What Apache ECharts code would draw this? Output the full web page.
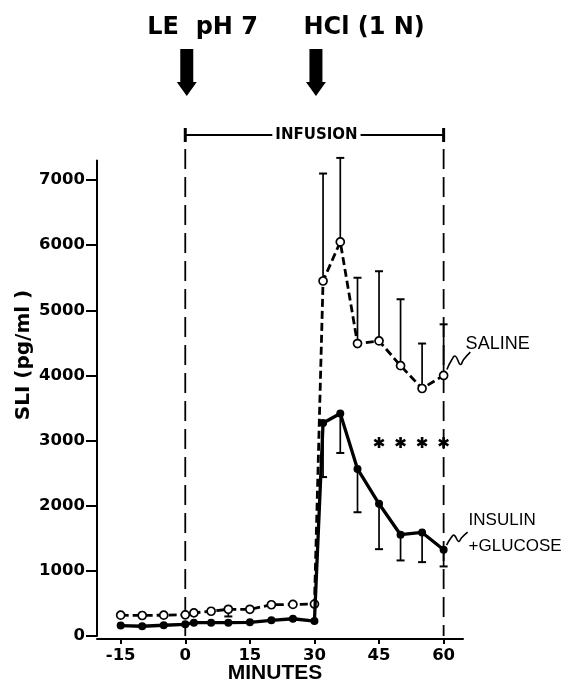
<!DOCTYPE html>
<html><head><meta charset="utf-8">
<script src="https://cdn.jsdelivr.net/npm/echarts@6/dist/echarts.min.js"></script>
<style>html,body{margin:0;padding:0;background:#fff}#c{width:571px;height:685px}</style>
</head><body><div id="c"></div>
<script>
// ---- data ----
const minutes    = [-15,-10,-5,0,2,6,10,15,20,25,30,32,36,40,45,50,55,60];
const salineSLI  = [320,315,320,325,355,380,410,410,480,485,490,5450,6050,4490,4530,4150,3800,4000];
const salineErr  = [0,0,0,0,0,0,-110,0,0,0,0,1650,1290,1010,1070,1020,690,785];
const insulinSLI = [160,150,165,180,205,205,205,210,240,265,230,3270,3415,2565,2030,1555,1590,1325];
const insulinErr = [0,0,0,0,0,0,0,0,0,0,0,-830,-605,-665,-697,-395,-456,-257];
const xTickValues = [-15,0,15,30,45,60];
const yTickValues = [0,1000,2000,3000,4000,5000,6000,7000];
const starMinutes = [45,50,55,60];
const starLevel = 2970;
const eventMinutes = [0,30];
const eventLabels = ['LE  pH 7','HCl (1 N)'];
const infusionRange = [0,60];

const chart = echarts.init(document.getElementById('c'), null, {renderer:'canvas'});
const TICKFONT = {fontFamily:'DejaVu Sans', fontWeight:'bold', fontSize:16.5, color:'#000', formatter:v=>String(v)};

function errRender(params, api){
  const e = api.value(2);
  if(!e) return;
  const x = api.value(0), y = api.value(1);
  const p0 = api.coord([x,y]), p1 = api.coord([x,y+e]);
  return {type:'group', children:[
    {type:'line', shape:{x1:p0[0],y1:p0[1],x2:p1[0],y2:p1[1]}, style:{stroke:'#000',lineWidth:1.7}},
    {type:'line', shape:{x1:p1[0]-4,y1:p1[1],x2:p1[0]+4,y2:p1[1]}, style:{stroke:'#000',lineWidth:2}}
  ]};
}
function starRender(params, api){
  const p = api.coord([api.value(0), api.value(1)]);
  const r = 5.5, ch = [];
  [90,30,150].forEach(a=>{
    const rad = a*Math.PI/180, dx = Math.cos(rad)*r, dy = Math.sin(rad)*r;
    ch.push({type:'line', shape:{x1:p[0]-dx,y1:p[1]-dy,x2:p[0]+dx,y2:p[1]+dy}, style:{stroke:'#000',lineWidth:2.6}});
  });
  return {type:'group', children:ch};
}

chart.setOption({
  animation:false,
  backgroundColor:'#fff',
  grid:{left:97, right:108, top:160.5, bottom:49, containLabel:false},
  xAxis:{type:'value', min:-20.5, max:64.5, offset:3,
    axisLine:{onZero:false, lineStyle:{color:'#000',width:2}},
    axisTick:{show:true, customValues:xTickValues, length:5, lineStyle:{color:'#000',width:2}},
    axisLabel:Object.assign({customValues:xTickValues, margin:8}, TICKFONT),
    splitLine:{show:false}},
  yAxis:{type:'value', min:0, max:7300,
    axisLine:{show:true, onZero:false, lineStyle:{color:'#000',width:2}},
    axisTick:{show:true, customValues:yTickValues, length:11, lineStyle:{color:'#000',width:2}},
    axisLabel:Object.assign({customValues:yTickValues, margin:12}, TICKFONT),
    splitLine:{show:false}},
  series:[
    {type:'custom', name:'salineErr', renderItem:errRender, clip:false, silent:true, z:2,
      encode:{x:0,y:1}, data:minutes.map((t,i)=>[t,salineSLI[i],salineErr[i]])},
    {type:'custom', name:'insulinErr', renderItem:errRender, clip:false, silent:true, z:2,
      encode:{x:0,y:1}, data:minutes.map((t,i)=>[t,insulinSLI[i],insulinErr[i]])},
    {type:'line', name:'SALINE', data:minutes.map((t,i)=>[t,salineSLI[i]]), z:5, silent:true,
      symbol:'circle', symbolSize:8, showAllSymbol:true,
      lineStyle:{color:'#000', width:2.8, type:[8,4]},
      itemStyle:{color:'#fff', borderColor:'#000', borderWidth:1.7}},
    {type:'line', name:'INSULIN + GLUCOSE', data:minutes.map((t,i)=>[t,insulinSLI[i]]), z:6, silent:true,
      symbol:'circle', symbolSize:8, showAllSymbol:true,
      lineStyle:{color:'#000', width:3.3},
      itemStyle:{color:'#000'}},
    {type:'custom', name:'stars', renderItem:starRender, silent:true, z:4,
      encode:{x:0,y:1}, data:starMinutes.map(t=>[t,starLevel])}
  ]
});

const P = (x,y)=>chart.convertToPixel({gridIndex:0},[x,y]);
const g = [];
// dashed infusion boundaries
infusionRange.forEach(t=>{
  const p = P(t,0);
  g.push({type:'line', shape:{x1:p[0],y1:149,x2:p[0],y2:p[1]}, style:{stroke:'#000',lineWidth:1.8,lineDash:[20,8]}, z:1});
});
// bracket
const xa = P(infusionRange[0],0)[0], xb = P(infusionRange[1],0)[0];
g.push({type:'line', shape:{x1:xa,y1:135,x2:xb,y2:135}, style:{stroke:'#000',lineWidth:2}});
g.push({type:'rect', shape:{x:xa-1.5,y:128,width:3,height:14}, style:{fill:'#000'}});
g.push({type:'rect', shape:{x:xb-1.5,y:128,width:3,height:14}, style:{fill:'#000'}});
g.push({type:'text', x:(xa+xb)/2+2, y:135, style:{text:'INFUSION', fontFamily:'DejaVu Sans', fontWeight:'bold', fontSize:15,
  fill:'#000', align:'center', verticalAlign:'middle', backgroundColor:'#fff', padding:[0,3]}, z:10});
// arrows + labels
eventMinutes.forEach((t,i)=>{
  const xc = P(t,0)[0] + 1.5;
  g.push({type:'rect', shape:{x:xc-6.5,y:49,width:13,height:34}, style:{fill:'#000'}});
  g.push({type:'polygon', shape:{points:[[xc-10,82],[xc+10,82],[xc,96]]}, style:{fill:'#000'}});
});
g.push({type:'text', x:P(eventMinutes[0],0)[0]-38, y:28, style:{text:eventLabels[0], fontFamily:'DejaVu Sans', fontWeight:'bold', fontSize:24, fill:'#000', align:'left', verticalAlign:'middle'}});
g.push({type:'text', x:P(eventMinutes[1],0)[0]-11, y:28, style:{text:eventLabels[1], fontFamily:'DejaVu Sans', fontWeight:'bold', fontSize:24, fill:'#000', align:'left', verticalAlign:'middle'}});
// axis titles
g.push({type:'text', x:24, y:355, rotation:Math.PI/2, style:{text:'SLI (pg/ml )', fontFamily:'DejaVu Sans', fontWeight:'bold', fontSize:20, fill:'#000', align:'center', verticalAlign:'middle'}});
g.push({type:'text', x:275, y:673, style:{text:'MINUTES', fontFamily:'Liberation Sans', fontWeight:'bold', fontSize:21, fill:'#000', align:'center', verticalAlign:'middle'}});
// series labels with squiggles
const last = minutes.length-1;
const ps = P(minutes[last], salineSLI[last]);
const pi = P(minutes[last], insulinSLI[last]);
const wave = [[3.3,-6],[8.3,-16],[11.7,-19.3],[16.7,-11],[20,-16],[26.7,-23.3]];
g.push({type:'polyline', shape:{points:wave.map(d=>[ps[0]+d[0], ps[1]+d[1]]), smooth:0.5}, style:{stroke:'#000',lineWidth:1.6,fill:null}});
g.push({type:'polyline', shape:{points:wave.map(d=>[pi[0]+d[0]*0.9, pi[1]+d[1]*0.75]), smooth:0.5}, style:{stroke:'#000',lineWidth:1.6,fill:null}});
g.push({type:'text', x:ps[0]+22, y:ps[1]-31, style:{text:'SALINE', fontFamily:'Liberation Sans', fontSize:18, fill:'#000', align:'left', verticalAlign:'middle'}});
g.push({type:'text', x:pi[0]+25, y:pi[1]-29, style:{text:'INSULIN', fontFamily:'Liberation Sans', fontSize:17, fill:'#000', align:'left', verticalAlign:'middle'}});
g.push({type:'text', x:pi[0]+25, y:pi[1]-3, style:{text:'+GLUCOSE', fontFamily:'Liberation Sans', fontSize:17, fill:'#000', align:'left', verticalAlign:'middle'}});
chart.setOption({graphic:g});
</script></body></html>
